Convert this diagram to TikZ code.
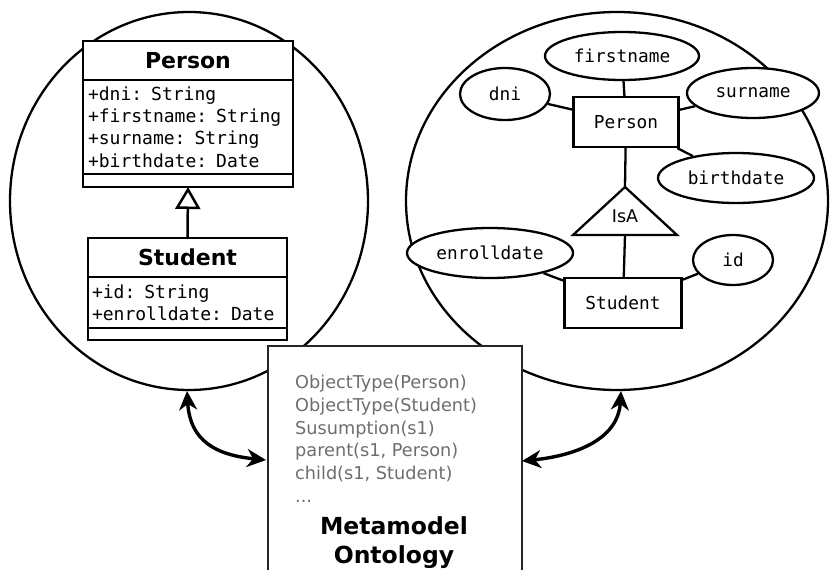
\documentclass[tikz,border=0pt]{standalone}
\usepackage{fontspec}
\setmainfont{DejaVu Sans}
\setmonofont{DejaVu Sans Mono}
\usetikzlibrary{arrows.meta,positioning,shapes.geometric}
\definecolor{ontogray}{RGB}{110,110,110}
\tikzset{
	classbox/.style={draw, line width=2.5pt, fill=white, outer sep=0pt, inner sep=0pt},
	classname/.style={classbox, font=\fontsize{22}{26}\selectfont\bfseries},
	classattr/.style={classbox, align=left, font=\fontsize{18}{22.3}\selectfont\ttfamily},
	entity/.style={draw, line width=2.3pt, fill=white, minimum height=50pt, font=\fontsize{17.8}{20}\selectfont\ttfamily},
	attrib/.style={draw, ellipse, line width=2.3pt, fill=white, inner sep=0pt, font=\fontsize{17.8}{20}\selectfont\ttfamily},
	erline/.style={line width=2.3pt},
	link/.style={line width=3.4pt, {Stealth[length=19pt,width=18pt,inset=6pt]}-{Stealth[length=19pt,width=18pt,inset=6pt]}}
}
\begin{document}
\begin{tikzpicture}[x=1pt, y=-1pt]
		\useasboundingbox (0,0) rectangle (830,570);
		%%%%% START %%%%%
		% the two views
		\draw[line width=2.3pt] (189,201) ellipse [x radius=179, y radius=189];
		\draw[line width=2.3pt] (617,201) ellipse [x radius=211, y radius=189];
		
		% UML class diagram
		\node[classname, minimum width=210pt, minimum height=39pt] (pername) at (188,60.5) {Person};
		\node[classattr, below=0pt of pername, text width=200pt, inner xsep=5pt, minimum height=94pt] (perattr) {+dni: String\\+firstname: String\\+surname: String\\+birthdate: Date};
		\node[classbox, below=0pt of perattr, minimum width=210pt, minimum height=13pt] (perops) {};
		
		\node[classname, minimum width=199pt, minimum height=39pt] (stuname) at (187.5,257.5) {Student};
		\node[classattr, below=0pt of stuname, text width=191pt, inner xsep=4pt, minimum height=51pt] (stuattr) {+id: String\\+enrolldate: Date};
		\node[classbox, below=0pt of stuattr, minimum width=199pt, minimum height=12pt] (stuops) {};
		
		\draw[line width=2.5pt, -{Triangle[open, length=22pt, width=25pt]}] (stuname.north) -- (perops.south);
		
		% ER diagram
		\node[entity, minimum width=105pt] (erper) at (626,122) {Person};
		\node[entity, minimum width=117pt] (erstu) at (623,303) {Student};
		\node[attrib, minimum width=154pt, minimum height=48pt] (erfirst) at (622,56) {firstname};
		\node[attrib, minimum width=90pt, minimum height=52pt] (erdni) at (505,94) {dni};
		\node[attrib, minimum width=132pt, minimum height=50pt] (ersur) at (753,93) {surname};
		\node[attrib, minimum width=156pt, minimum height=50pt] (erbirth) at (736,178) {birthdate};
		\node[attrib, minimum width=166pt, minimum height=50pt] (erenroll) at (490,253) {enrolldate};
		\node[attrib, minimum width=80pt, minimum height=50pt] (erid) at (733,260) {id};
		
		\coordinate (isaapex) at (625,187);
		\coordinate (isabase) at (625,235);
		\draw[erline, line join=miter] (isaapex) -- (573,235) -- (677,235) -- cycle;
		\node[font=\fontsize{17.5}{20}\selectfont] (isa) at (625,216) {IsA};
		
		\draw[erline] (erfirst) -- (erper);
		\draw[erline] (erdni) -- (erper);
		\draw[erline] (ersur) -- (erper);
		\draw[erline] (erbirth) -- (erper);
		\draw[erline] (erper) -- (isaapex);
		\draw[erline] (isabase) -- (erstu);
		\draw[erline] (erenroll) -- (erstu);
		\draw[erline] (erid) -- (erstu);
		
		% metamodel ontology
		\node[draw=black!85, line width=2.3pt, fill=white, anchor=north west, minimum width=254pt, minimum height=240pt] (onto) at (267,345) {};
		\node[anchor=north west, inner sep=0pt, align=left, text=ontogray, font=\fontsize{17.7}{22.7}\selectfont] (ontotext) at (295,375) {ObjectType(Person)\\ObjectType(Student)\\Susumption(s1)\\parent(s1, Person)\\child(s1, Student)\\...};
		\node[align=center, font=\fontsize{23.5}{29}\selectfont\bfseries] (ontoname) at (394,542.5) {Metamodel\\Ontology};
		
		\coordinate (lcirc) at (187,391);
		\coordinate (lbox) at (266,460);
		\coordinate (rbox) at (522,461);
		\coordinate (rcirc) at (621,391);
		\draw[link] (lcirc) .. controls +(3,50) and +(-50,-5) .. (lbox);
		\draw[link] (rbox) .. controls +(50,-5) and +(-3,50) .. (rcirc);
		%%%%% END %%%%%
	\end{tikzpicture}
\end{document}
